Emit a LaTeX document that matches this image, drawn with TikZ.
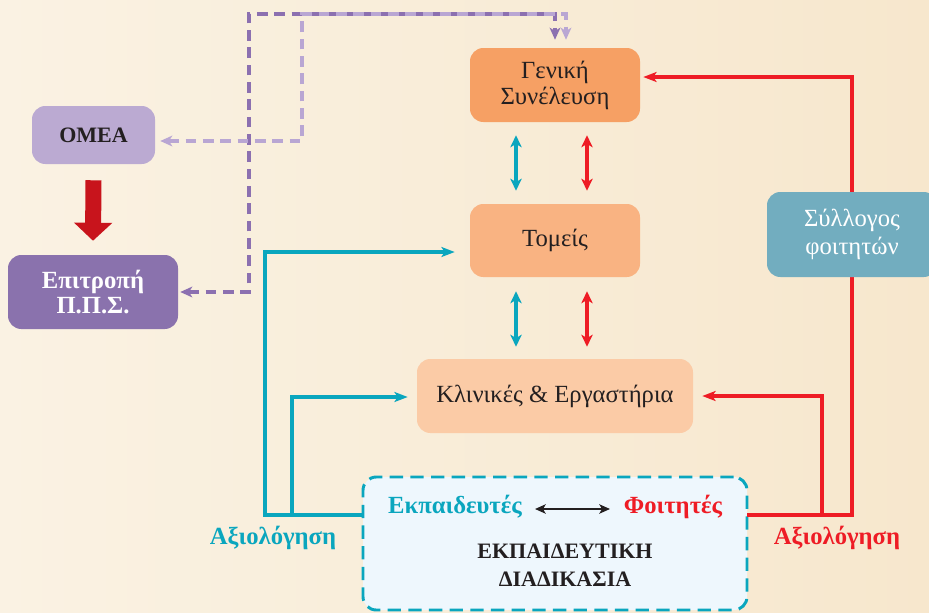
\documentclass[tikz,border=0pt]{standalone}
\usepackage{fontspec}
\setmainfont{Liberation Serif}
\usetikzlibrary{arrows.meta,calc}

\definecolor{fondo}{HTML}{FAF2E3}
\definecolor{fondob}{HTML}{F7E7CD}
\definecolor{testo}{HTML}{231F20}
\definecolor{omeacol}{HTML}{BBAAD2}
\definecolor{ppscol}{HTML}{8A72AD}
\definecolor{gencol}{HTML}{F6A064}
\definecolor{tomcol}{HTML}{F9B382}
\definecolor{klincol}{HTML}{FBCBA6}
\definecolor{sylcol}{HTML}{72ADBF}
\definecolor{azzurro}{HTML}{0AA6BE}
\definecolor{rosso}{HTML}{EE1C25}
\definecolor{rossoscuro}{HTML}{C8141C}
\definecolor{viola}{HTML}{8C70B0}
\definecolor{lilla}{HTML}{B9A6D3}
\definecolor{celeste}{HTML}{EEF7FD}

\tikzset{
  box/.style={rounded corners=10pt, inner sep=0pt, align=center,
    font=\fontsize{18.5}{19.5}\selectfont, text=testo},
  capsfont/.style={font=\fontsize{16.5}{19}\selectfont\bfseries},
  bigfont/.style={font=\fontsize{18.5}{19}\selectfont\bfseries},
  tealline/.style={draw=azzurro, line width=2.4pt, -{Stealth[length=10pt,width=7.5pt,inset=2.5pt]}},
  redline/.style={draw=rosso, line width=2.4pt, -{Stealth[length=10pt,width=7.5pt,inset=2.5pt]}},
  tealarr/.style={draw=azzurro, line width=2.4pt, {Stealth[length=9pt,width=8.5pt,inset=2.5pt]}-{Stealth[length=9pt,width=8.5pt,inset=2.5pt]}},
  redarr/.style={draw=rosso, line width=2.4pt, {Stealth[length=9pt,width=8.5pt,inset=2.5pt]}-{Stealth[length=9pt,width=8.5pt,inset=2.5pt]}},
  darkdash/.style={draw=viola, line width=2.3pt, dash pattern=on 8pt off 5pt,
    {Stealth[length=9pt,width=8pt,inset=2.5pt]}-{Stealth[length=9pt,width=8pt,inset=2.5pt]}},
  lightdash/.style={draw=lilla, line width=2.3pt, dash pattern=on 8pt off 5pt,
    {Stealth[length=9pt,width=8pt,inset=2.5pt]}-{Stealth[length=9pt,width=8pt,inset=2.5pt]}},
}

\begin{document}
\begin{tikzpicture}[x=0.75pt,y=-0.75pt]

\useasboundingbox (0,0) rectangle (929,612);
\clip (0,0) rectangle (929,612);
\shade[left color=fondo, right color=fondob] (0,0) rectangle (929,612);

%colonna centrale
\node[box, fill=gencol, minimum width=127.5pt, minimum height=55.5pt] (gen) at (555,85) {Γενική\\Συνέλευση};
\node[box, fill=tomcol, minimum width=127.5pt, minimum height=54.75pt] (tom) at (555,240.5) {Τομείς};
\node[box, fill=klincol, minimum width=207pt, minimum height=55.5pt] (klin) at (555,396) {Κλινικές \& Εργαστήρια};

%sinistra
\node[box, fill=omeacol, minimum width=92.25pt, minimum height=43.5pt, capsfont] (omea) at (93.5,135) {ΟΜΕΑ};
\node[box, fill=ppscol, minimum width=127.5pt, minimum height=55.5pt, bigfont, text=white] (pps) at (93,292) {Επιτροπή\\Π.Π.Σ.};

%riquadro in basso
\node[box, fill=celeste, draw=azzurro, line width=2.2pt, dash pattern=on 10pt off 5.5pt,
  minimum width=288pt, minimum height=99.75pt] (edu) at (555,543.5) {};
\node[bigfont, text=azzurro] (teach) at (455,507) {Εκπαιδευτές};
\node[bigfont, text=rosso] (stud) at (673,507) {Φοιτητές};
\node[text=testo, align=center, font=\fontsize{16.5}{21}\selectfont\bfseries] (title) at (565,565) {ΕΚΠΑΙΔΕΥΤΙΚΗ\\ΔΙΑΔΙΚΑΣΙΑ};
\draw[line width=2.2pt, testo, {Stealth[length=8pt,width=7pt,inset=2pt]}-{Stealth[length=8pt,width=7pt,inset=2pt]}] (535,509) -- (610,509);

\coordinate (evl) at (363,515);
\coordinate (evr) at (747,515);
\node[bigfont, text=azzurro] (evalt) at (273,538) {Αξιολόγηση};
\node[bigfont, text=rosso] (evalr) at (837,538) {Αξιολόγηση};

%frecce tra i livelli
\draw[tealarr] ($(gen.south)+(-39,13)$) -- ($(tom.north)+(-39,-13)$);
\draw[redarr] ($(gen.south)+(32,13)$) -- ($(tom.north)+(32,-13)$);
\draw[tealarr] ($(tom.south)+(-39,14)$) -- ($(klin.north)+(-39,-12)$);
\draw[redarr] ($(tom.south)+(32,14)$) -- ($(klin.north)+(32,-12)$);

%valutazione
\draw[tealline] (evl) -- ++(-98,0) |- ($(tom.west)+(-15,11.5)$);
\draw[tealline] (evl) -- ++(-71,0) |- ($(klin.west)+(-9,1)$);
\draw[redline] (evr) -- ++(75,0) |- ($(klin.east)+(9,0)$);
\draw[redline] (evr) -- ++(105,0) |- ($(gen.east)+(3,-8)$);

\node[box, fill=sylcol, minimum width=127.5pt, minimum height=63.75pt, text=white,
  font=\fontsize{18.5}{20.5}\selectfont] (syl) at (852,234.5) {Σύλλογος\\φοιτητών};

%tratteggi
\draw[darkdash] ($(pps.east)+(2,0)$) -| (249,14) -| ($(gen.north)+(0,-8)$);
\draw[lightdash] ($(omea.east)+(5,6)$) -| (302,14) -| ($(gen.north)+(11,-8)$);

%freccia rossa
\draw[rossoscuro, line width=12pt, -{Triangle[width=28pt,length=13.5pt]}] ($(omea.south)+(0,16)$) -- ($(pps.north)+(0,-14)$);

\end{tikzpicture}
\end{document}
